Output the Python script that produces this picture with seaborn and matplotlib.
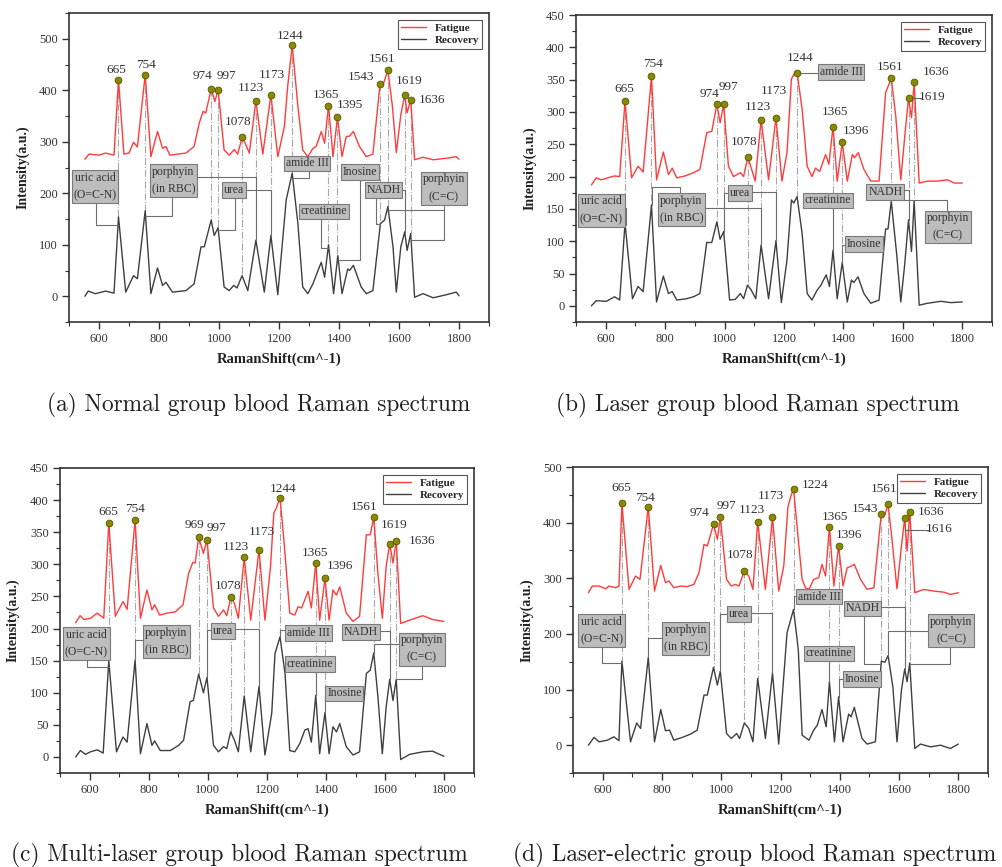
import numpy as np
import pandas as pd
import matplotlib
matplotlib.use("Agg")
import matplotlib.pyplot as plt
import seaborn as sns
from matplotlib.ticker import MultipleLocator

# ---------------- DATA ----------------
# Panel (a) Normal group
A_FAT_X = [553, 567, 600, 622, 650, 665, 683, 700, 715, 728, 754, 773, 795, 812, 823, 836, 862, 890, 917, 934, 947, 956, 974, 986, 997, 1017, 1034, 1051, 1062, 1078, 1101, 1123, 1146, 1173, 1196, 1218, 1229, 1244, 1263, 1279, 1296, 1313, 1324, 1341, 1352, 1365, 1380, 1395, 1410, 1424, 1435, 1448, 1468, 1491, 1513, 1537, 1547, 1563, 1578, 1591, 1606, 1619, 1627, 1639, 1652, 1680, 1714, 1758, 1791, 1800]
A_FAT_Y = [266, 276, 274, 278, 274, 420, 276, 278, 299, 290, 430, 271, 320, 287, 291, 274, 276, 278, 291, 336, 359, 356, 403, 378, 401, 284, 274, 285, 276, 310, 278, 380, 276, 391, 271, 330, 408, 487, 369, 284, 271, 287, 291, 320, 297, 370, 271, 348, 271, 310, 311, 320, 291, 271, 276, 413, 411, 439, 369, 279, 352, 391, 356, 382, 265, 270, 265, 268, 271, 266]
A_REC_X = [553, 564, 588, 622, 650, 665, 689, 715, 728, 754, 773, 795, 812, 823, 845, 890, 917, 940, 951, 974, 984, 997, 1017, 1034, 1049, 1060, 1077, 1096, 1123, 1151, 1173, 1196, 1224, 1244, 1263, 1279, 1296, 1313, 1330, 1341, 1352, 1365, 1382, 1396, 1410, 1429, 1435, 1448, 1474, 1491, 1513, 1538, 1552, 1563, 1580, 1591, 1606, 1619, 1627, 1639, 1652, 1680, 1714, 1758, 1791, 1800]
A_REC_Y = [0, 10, 5, 10, 6, 154, 8, 40, 34, 166, 5, 55, 21, 27, 8, 11, 24, 96, 96, 148, 118, 133, 18, 11, 21, 16, 40, 11, 109, 8, 118, 3, 187, 239, 141, 18, 5, 24, 50, 66, 37, 100, 5, 79, 5, 53, 50, 60, 18, 5, 11, 141, 148, 174, 96, 8, 96, 125, 89, 122, -2, 5, -3, 3, 8, 1]
A_PEAK_X = [665, 754, 974, 997, 1078, 1123, 1173, 1244, 1365, 1395, 1537, 1563, 1619, 1639]
A_PEAK_Y = [420, 430, 403, 401, 310, 380, 391, 487, 370, 348, 413, 439, 391, 382]
A_PEAK_LABELS = ['665', '754', '974', '997', '1078', '1123', '1173', '1244', '1365', '1395', '1543', '1561', '1619', '1636']

# Panel (b) Laser group
B_FAT_X = [552, 568, 585, 614, 630, 647, 665, 687, 709, 726, 754, 771, 794, 811, 824, 839, 867, 895, 917, 940, 957, 974, 985, 997, 1013, 1030, 1053, 1064, 1078, 1086, 1103, 1123, 1148, 1173, 1193, 1210, 1225, 1233, 1244, 1261, 1278, 1294, 1306, 1320, 1340, 1351, 1365, 1379, 1396, 1413, 1430, 1437, 1450, 1469, 1492, 1520, 1542, 1561, 1576, 1593, 1608, 1619, 1629, 1638, 1655, 1683, 1717, 1750, 1773, 1800]
B_FAT_Y = [187, 198, 195, 199, 201, 200, 317, 198, 216, 207, 355, 195, 238, 203, 213, 198, 201, 206, 211, 268, 270, 312, 283, 312, 216, 200, 206, 200, 230, 219, 193, 288, 195, 291, 193, 237, 351, 358, 361, 304, 216, 200, 213, 208, 234, 219, 277, 193, 253, 193, 234, 229, 237, 211, 193, 193, 330, 352, 294, 195, 270, 321, 291, 346, 190, 193, 193, 195, 190, 190]
B_REC_X = [552, 568, 602, 630, 647, 665, 690, 709, 726, 754, 771, 794, 811, 824, 839, 872, 895, 917, 940, 957, 974, 985, 997, 1017, 1036, 1053, 1064, 1077, 1089, 1105, 1123, 1148, 1173, 1191, 1210, 1225, 1233, 1244, 1261, 1278, 1294, 1311, 1323, 1342, 1353, 1365, 1379, 1396, 1413, 1427, 1435, 1449, 1469, 1492, 1520, 1542, 1550, 1561, 1579, 1593, 1606, 1619, 1629, 1638, 1655, 1683, 1728, 1761, 1800]
B_REC_Y = [0, 8, 7, 14, 9, 128, 11, 30, 22, 156, 6, 46, 19, 22, 9, 11, 14, 19, 98, 98, 130, 103, 115, 9, 10, 19, 11, 32, 25, 11, 94, 11, 101, 5, 71, 164, 159, 169, 112, 19, 9, 24, 31, 48, 30, 86, 11, 67, 6, 40, 36, 45, 19, 4, 9, 119, 119, 162, 81, 6, 63, 133, 84, 162, 1, 4, 7, 5, 6]
B_PEAK_X = [665, 754, 974, 997, 1078, 1123, 1173, 1244, 1365, 1396, 1561, 1619, 1638]
B_PEAK_Y = [317, 355, 312, 312, 230, 288, 291, 361, 277, 253, 352, 321, 346]
B_PEAK_LABELS = ['665', '754', '974', '997', '1078', '1123', '1173', '1244', '1365', '1396', '1561', '1619', '1636']

# Panel (c) Multi-laser group
C_FAT_X = [553, 568, 581, 603, 626, 648, 665, 687, 713, 727, 754, 772, 794, 811, 820, 837, 862, 890, 916, 935, 949, 957, 969, 985, 997, 1019, 1036, 1053, 1064, 1078, 1090, 1103, 1123, 1145, 1173, 1193, 1212, 1223, 1232, 1244, 1257, 1277, 1294, 1305, 1317, 1328, 1339, 1350, 1365, 1378, 1396, 1410, 1423, 1435, 1446, 1468, 1491, 1513, 1536, 1549, 1561, 1575, 1590, 1603, 1615, 1626, 1637, 1652, 1682, 1727, 1760, 1798]
C_FAT_Y = [209, 220, 214, 216, 224, 216, 365, 219, 242, 230, 369, 216, 260, 229, 237, 221, 224, 226, 237, 286, 303, 302, 342, 317, 338, 232, 219, 229, 220, 249, 239, 216, 311, 213, 323, 213, 297, 380, 388, 404, 338, 224, 221, 234, 232, 245, 258, 232, 302, 213, 278, 213, 260, 252, 265, 224, 211, 219, 346, 346, 373, 286, 216, 297, 332, 302, 337, 208, 213, 220, 214, 211]
C_REC_X = [553, 569, 586, 603, 626, 646, 665, 691, 713, 727, 754, 772, 794, 811, 820, 839, 873, 901, 918, 940, 951, 969, 985, 997, 1019, 1036, 1053, 1064, 1077, 1090, 1103, 1123, 1145, 1173, 1193, 1216, 1227, 1244, 1261, 1277, 1294, 1311, 1328, 1339, 1350, 1365, 1378, 1396, 1410, 1423, 1435, 1446, 1468, 1491, 1513, 1536, 1549, 1561, 1575, 1590, 1603, 1615, 1626, 1637, 1652, 1682, 1727, 1760, 1798]
C_REC_Y = [0, 10, 4, 8, 11, 6, 150, 8, 31, 23, 151, 5, 52, 18, 25, 10, 10, 18, 26, 86, 88, 129, 100, 124, 18, 8, 16, 13, 39, 26, 8, 95, 8, 110, 3, 68, 161, 187, 130, 10, 8, 21, 42, 44, 23, 96, 5, 69, 5, 47, 39, 52, 16, 3, 8, 130, 135, 162, 94, 5, 78, 121, 88, 121, -4, 4, 8, 9, 1]
C_PEAK_X = [665, 754, 969, 997, 1078, 1123, 1173, 1244, 1365, 1396, 1561, 1615, 1637]
C_PEAK_Y = [365, 369, 342, 338, 249, 311, 323, 404, 302, 278, 373, 332, 337]
C_PEAK_LABELS = ['665', '754', '969', '997', '1078', '1123', '1173', '1244', '1365', '1396', '1561', '1619', '1636']

# Panel (d) Laser-electric group
D_FAT_X = [552, 565, 588, 610, 621, 644, 655, 665, 689, 711, 726, 754, 775, 796, 812, 824, 840, 863, 885, 908, 925, 942, 953, 974, 987, 997, 1018, 1034, 1048, 1060, 1078, 1093, 1107, 1123, 1149, 1173, 1194, 1211, 1225, 1234, 1244, 1260, 1273, 1284, 1296, 1312, 1329, 1340, 1352, 1365, 1380, 1396, 1411, 1425, 1436, 1449, 1470, 1492, 1515, 1540, 1552, 1563, 1576, 1593, 1608, 1619, 1627, 1636, 1653, 1683, 1717, 1751, 1773, 1800]
D_FAT_Y = [274, 286, 286, 281, 286, 283, 286, 435, 280, 304, 298, 429, 277, 323, 292, 295, 283, 286, 285, 289, 310, 361, 358, 397, 370, 410, 298, 286, 289, 286, 313, 304, 280, 402, 280, 410, 277, 322, 428, 446, 461, 370, 298, 283, 280, 298, 301, 325, 304, 393, 286, 358, 286, 319, 321, 325, 298, 280, 283, 416, 414, 433, 370, 281, 358, 408, 349, 419, 274, 280, 277, 275, 271, 274]
D_REC_X = [552, 571, 588, 616, 638, 655, 665, 694, 715, 728, 754, 775, 796, 812, 826, 840, 869, 897, 919, 942, 953, 974, 987, 997, 1018, 1034, 1052, 1062, 1078, 1093, 1107, 1123, 1149, 1173, 1194, 1222, 1244, 1260, 1273, 1296, 1312, 1324, 1340, 1354, 1365, 1382, 1396, 1411, 1430, 1438, 1449, 1475, 1492, 1520, 1540, 1552, 1563, 1579, 1593, 1608, 1619, 1627, 1636, 1653, 1672, 1706, 1740, 1773, 1800]
D_REC_Y = [0, 14, 6, 9, 15, 8, 151, 6, 40, 30, 158, 6, 64, 26, 27, 9, 14, 20, 27, 90, 90, 140, 108, 133, 21, 12, 21, 12, 40, 30, 6, 120, 12, 130, 2, 202, 244, 172, 18, 9, 27, 36, 64, 33, 114, 6, 87, 6, 56, 51, 68, 12, 2, 6, 151, 149, 161, 105, 6, 99, 137, 114, 148, -6, 2, -3, 0, -6, 2]
D_PEAK_X = [665, 754, 974, 997, 1078, 1123, 1173, 1244, 1365, 1396, 1540, 1563, 1619, 1636]
D_PEAK_Y = [435, 429, 397, 410, 313, 402, 410, 461, 393, 358, 416, 433, 408, 419]
D_PEAK_LABELS = ['665', '754', '974', '997', '1078', '1123', '1173', '1224', '1365', '1396', '1543', '1561', '1616', '1636']

CAPTIONS = ['(a) Normal group blood Raman spectrum',
            '(b) Laser group blood Raman spectrum',
            '(c) Multi-laser group blood Raman spectrum',
            '(d) Laser-electric group blood Raman spectrum']
SERIES = ['Fatigue', 'Recovery']

# ---------------- LAYOUT ----------------
A_LAYOUT = dict(
    ylim=(-50, 550), ymaj=100, ymin=50,
    label_pos=[(658, 440), (756, 450), (945, 427), (1025, 428), (1064, 339), (1107, 404), (1176, 430),
               (1237, 506), (1357, 391), (1438, 372), (1472, 426), (1543, 461), (1634, 417), (1710, 382)],
    leaders=[],
    boxes=[
        ('uric acid\n(O=C-N)', (587, 213), [[(589, 213), (589, 138), (665, 138)]]),
        ('porphyin\n(in RBC)', (848, 224), [[(845, 224), (845, 155), (754, 155)], [(848, 232), (1123, 232), (1123, 109)]]),
        ('urea', (1050, 206), [[(1054, 206), (1054, 128), (997, 128)], [(1050, 206), (1173, 206), (1173, 118)]]),
        ('amide III', (1294, 258), [[(1300, 258), (1300, 229), (1244, 229)]]),
        ('Inosine', (1471, 241), [[(1471, 241), (1471, 71), (1396, 71)]]),
        ('creatinine', (1349, 165), [[(1341, 165), (1341, 94), (1365, 94)]]),
        ('NADH', (1548, 206), [[(1524, 206), (1524, 140), (1538, 140)], [(1548, 207), (1619, 207), (1619, 125)]]),
        ('porphyin\n(C=C)', (1750, 210), [[(1750, 210), (1750, 110), (1639, 110)], [(1750, 168), (1563, 168)]]),
    ])
B_LAYOUT = dict(
    ylim=(-25, 450), ymaj=50, ymin=25,
    label_pos=[(662, 336), (758, 374), (949, 327), (1013, 338), (1066, 253), (1111, 307), (1167, 332),
               (1255, 383), (1371, 300), (1441, 270), (1557, 370), (1697, 323), (1711, 362)],
    leaders=[[(1619, 321), (1662, 321)]],
    boxes=[
        ('uric acid\n(O=C-N)', (585, 148), [[(585, 151), (668, 151), (668, 125)]]),
        ('porphyin\n(in RBC)', (855, 149), [[(850, 149), (850, 184), (756, 184), (756, 156)], [(855, 151), (1123, 151), (1123, 94)]]),
        ('urea', (1053, 175), [[(1053, 175), (997, 175), (997, 115)], [(1053, 176), (1173, 176), (1173, 101)]]),
        ('amide III', (1392, 362), [[(1244, 361), (1392, 361)]]),
        ('creatinine', (1348, 163), [[(1365, 163), (1365, 86)]]),
        ('Inosine', (1468, 96), [[(1468, 94), (1396, 94), (1396, 67)]]),
        ('NADH', (1541, 176), [[(1561, 176), (1561, 162)], [(1541, 179), (1621, 179), (1621, 133)]]),
        ('porphyin\n(C=C)', (1751, 122), [[(1750, 122), (1750, 163), (1561, 163)]]),
    ])
C_LAYOUT = dict(
    ylim=(-25, 450), ymaj=50, ymin=25,
    label_pos=[(662, 381), (755, 386), (954, 362), (1030, 356), (1067, 267), (1095, 327), (1182, 350),
               (1253, 418), (1362, 317), (1448, 298), (1530, 389), (1629, 361), (1724, 337)],
    leaders=[],
    boxes=[
        ('uric acid\n(O=C-N)', (589, 177), [[(590, 177), (590, 140), (665, 140)]]),
        ('porphyin\n(in RBC)', (860, 180), [[(860, 182), (754, 182), (754, 151)]]),
        ('urea', (1050, 196), [[(1050, 197), (997, 197), (997, 124)], [(1050, 199), (1173, 199), (1173, 110)]]),
        ('amide III', (1340, 193), [[(1340, 198), (1244, 198), (1244, 187)]]),
        ('creatinine', (1346, 145), [[(1365, 145), (1365, 96)]]),
        ('Inosine', (1462, 99), [[(1462, 101), (1396, 101), (1396, 69)]]),
        ('NADH', (1517, 195), [[(1517, 196), (1615, 196), (1615, 121)]]),
        ('porphyin\n(C=C)', (1723, 168), [[(1723, 176), (1561, 176), (1561, 162)], [(1724, 168), (1724, 121), (1637, 121)]]),
    ])
D_LAYOUT = dict(
    ylim=(-50, 500), ymaj=100, ymin=50,
    label_pos=[(663, 462), (743, 445), (928, 417), (1017, 430), (1063, 342), (1102, 422), (1169, 447),
               (1318, 467), (1383, 411), (1430, 378), (1486, 425), (1548, 460), (1734, 389), (1709, 419)],
    leaders=[[(1619, 387), (1700, 387)]],
    boxes=[
        ('uric acid\n(O=C-N)', (597, 206), [[(597, 206), (597, 148), (665, 148)]]),
        ('porphyin\n(in RBC)', (881, 192), [[(881, 192), (754, 192), (754, 158)]]),
        ('urea', (1060, 236), [[(1060, 235), (997, 235), (997, 133)], [(1060, 237), (1173, 237), (1173, 130)]]),
        ('amide III', (1331, 267), [[(1331, 268), (1244, 268), (1244, 244)]]),
        ('creatinine', (1364, 165), [[(1365, 165), (1365, 114)]]),
        ('Inosine', (1474, 119), [[(1474, 119), (1396, 119), (1396, 87)]]),
        ('NADH', (1477, 246), [[(1481, 246), (1481, 146), (1540, 146)], [(1477, 249), (1619, 249), (1619, 137)]]),
        ('porphyin\n(C=C)', (1776, 206), [[(1776, 205), (1563, 205), (1563, 161)], [(1773, 206), (1773, 146), (1636, 146)]]),
    ])

AX_RECTS = [(69, 13, 489, 322), (576, 15, 992, 322), (60, 468, 474, 773), (573, 467, 988, 773)]
YLABEL_X = [-0.093, -0.096, -0.097, -0.094]
CAPTION_POS = [(259, 405), (758, 405), (239, 855), (755, 855)]

RED = '#ff3c3c'
GRAY = '#3f3f3f'
OLIVE = '#8a8a00'
W, H = 1002, 867

sns.set_theme(style='ticks')
plt.rcParams['font.family'] = ['Liberation Serif', 'DejaVu Serif']
plt.rcParams['axes.unicode_minus'] = False

fig = plt.figure(figsize=(W / 100, H / 100), dpi=100)


def draw_panel(ax, fx, fy, rx, ry, px, py, plabels, lay, ylab_x):
    df = pd.concat([pd.DataFrame({'shift': fx, 'val': fy, 'series': SERIES[0]}),
                    pd.DataFrame({'shift': rx, 'val': ry, 'series': SERIES[1]})], ignore_index=True)
    sns.lineplot(data=df, x='shift', y='val', hue='series', hue_order=SERIES,
                 palette={SERIES[0]: RED, SERIES[1]: GRAY}, estimator=None, sort=False,
                 lw=1.0, ax=ax, zorder=2)
    for x, y in zip(px, py):
        y_end = np.interp(x, rx, ry)
        ax.plot([x, x], [y, y_end], color='#a8a8a8', ls='-.', lw=0.8, zorder=1.5)
    sns.scatterplot(x=px, y=py, ax=ax, color=OLIVE, edgecolor='#555500', linewidth=0.6,
                    s=24, zorder=5, legend=False)
    for lab, (tx, ty) in zip(plabels, lay['label_pos']):
        ax.text(tx, ty, lab, ha='center', va='center', fontsize=9.5, color='#333333', zorder=6)
    for seg in lay['leaders']:
        xs, ys = zip(*seg)
        ax.plot(xs, ys, color='#666666', lw=0.8, zorder=3)
    for text, (bx, by), lines in lay['boxes']:
        for seg in lines:
            xs, ys = zip(*seg)
            ax.plot(xs, ys, color='#6e6e6e', lw=0.8, zorder=3)
        ax.text(bx, by, text, ha='center', va='center', fontsize=8.5, color='#333333',
                linespacing=1.6, zorder=7,
                bbox=dict(boxstyle='square,pad=0.15', fc='#bdbdbd', ec='#7a7a7a', lw=0.8))
    ax.set_xlim(500, 1900)
    ax.set_ylim(*lay['ylim'])
    ax.xaxis.set_major_locator(MultipleLocator(200))
    ax.xaxis.set_minor_locator(MultipleLocator(100))
    ax.yaxis.set_major_locator(MultipleLocator(lay['ymaj']))
    ax.yaxis.set_minor_locator(MultipleLocator(lay['ymin']))
    ax.set_xticks([t for t in range(600, 1801, 200)])
    yt = [t for t in range(0, int(lay['ylim'][1]) + 1, lay['ymaj'])]
    ax.set_yticks(yt)
    ax.tick_params(which='major', direction='out', length=5, width=1, colors='#333333',
                   labelsize=9, pad=3)
    ax.tick_params(which='minor', direction='out', length=3, width=0.8, colors='#333333')
    for sp in ax.spines.values():
        sp.set_color('#333333')
        sp.set_linewidth(1.2)
    ax.set_xlabel('RamanShift(cm^-1)', fontsize=10.5, fontweight='bold', color='#222222', labelpad=5)
    ax.set_ylabel('Intensity(a.u.)', fontsize=10, fontweight='bold', color='#222222')
    ax.yaxis.set_label_coords(ylab_x, 0.5)
    handles, labels = ax.get_legend_handles_labels()
    leg = ax.legend(handles, labels, loc='upper right', frameon=True, fancybox=False,
                    framealpha=1, edgecolor='#555555', prop={'weight': 'bold', 'size': 8},
                    handlelength=2.2, borderaxespad=0.6, borderpad=0.3, labelspacing=0.25,
                    handletextpad=0.8)
    leg.get_frame().set_linewidth(0.8)
    ax.set_facecolor('white')


panels = [
    (A_FAT_X, A_FAT_Y, A_REC_X, A_REC_Y, A_PEAK_X, A_PEAK_Y, A_PEAK_LABELS, A_LAYOUT),
    (B_FAT_X, B_FAT_Y, B_REC_X, B_REC_Y, B_PEAK_X, B_PEAK_Y, B_PEAK_LABELS, B_LAYOUT),
    (C_FAT_X, C_FAT_Y, C_REC_X, C_REC_Y, C_PEAK_X, C_PEAK_Y, C_PEAK_LABELS, C_LAYOUT),
    (D_FAT_X, D_FAT_Y, D_REC_X, D_REC_Y, D_PEAK_X, D_PEAK_Y, D_PEAK_LABELS, D_LAYOUT),
]

for i, p in enumerate(panels):
    l, t, r, b = AX_RECTS[i]
    ax = fig.add_axes([l / W, 1 - b / H, (r - l) / W, (b - t) / H])
    draw_panel(ax, *p, YLABEL_X[i])
    cx, cy = CAPTION_POS[i]
    fig.text(cx / W, 1 - cy / H, CAPTIONS[i], ha='center', va='center', fontsize=16.8,
             family='cmr10', color='#222222')

fig.savefig('out.png', dpi=100, facecolor='white')
